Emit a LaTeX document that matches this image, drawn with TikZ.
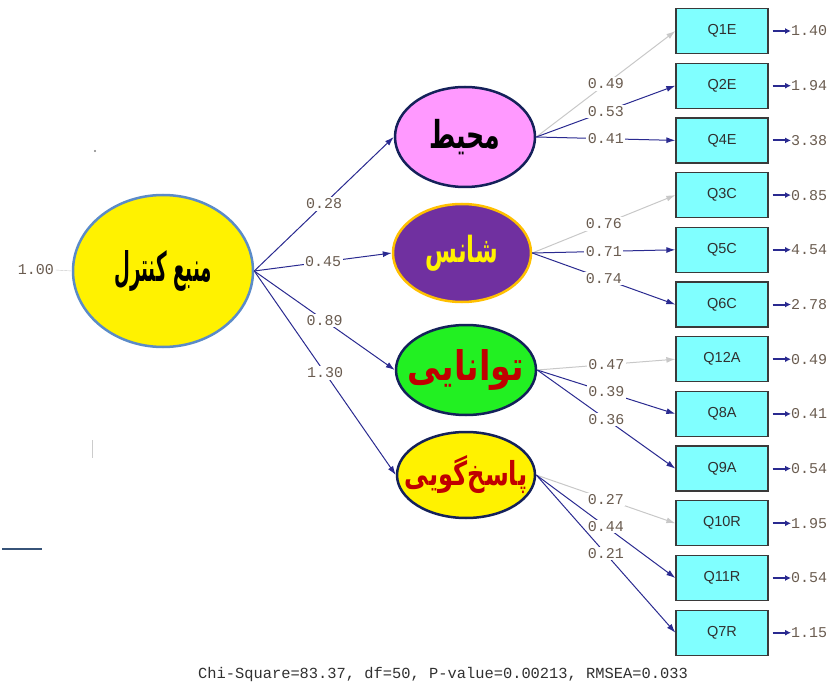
\documentclass[tikz,border=0pt]{standalone}
\usepackage{fontspec}
\usepackage{graphicx}
\setmainfont{Liberation Sans}
\newfontfamily\farsi[Script=Arabic]{DejaVu Sans}
\newfontfamily\lisrel{Liberation Mono}
\TeXXeTstate=1
\usetikzlibrary{shapes.geometric,arrows.meta}
\definecolor{pathblue}{HTML}{2A2A90}
\definecolor{pathgray}{HTML}{C8C8C8}
\definecolor{coeftext}{HTML}{6A5C50}
\definecolor{boxfill}{HTML}{80FFFF}
\definecolor{boxborder}{HTML}{3A3A3A}
\definecolor{boxtext}{HTML}{303030}
\definecolor{mainborder}{HTML}{5B8BC8}
\definecolor{latborder}{HTML}{14215A}
\definecolor{pinkfill}{HTML}{FF99FF}
\definecolor{purplefill}{HTML}{7030A0}
\definecolor{goldborder}{HTML}{FFC000}
\definecolor{greenfill}{HTML}{22F022}
\definecolor{darkred}{HTML}{C00000}
\newcommand{\falabel}[3]{\makebox[0pt]{\scalebox{#1}[#2]{#3}}}
\tikzset{
  latent/.style={ellipse, draw=latborder, line width=2.5pt, inner sep=0pt},
  indic/.style={rectangle, draw=boxborder, fill=boxfill, line width=1.3pt,
    minimum width=92pt, minimum height=45pt, text=boxtext,
    font=\fontsize{14.5}{14.5}\selectfont},
  coef/.style={fill=white, inner sep=1.5pt, text=coeftext,
    font=\lisrel\fontsize{15}{15}\selectfont},
  freepath/.style={draw=pathblue, line width=1pt, -{Latex[length=9pt,width=6pt]}},
  fixpath/.style={draw=pathgray, line width=1pt, -{Latex[length=9pt,width=6pt]}},
  errpath/.style={draw=pathblue, line width=2pt, shorten <=4pt, -{Latex[length=6pt,width=6pt]}},
  fa/.style={font=\farsi\bfseries\fontsize{#1}{#1}\selectfont}
}

\begin{document}
\begin{tikzpicture}[x=1pt,y=-1pt]
  \useasboundingbox (0,0) rectangle (833,695);
  % latent variables
  \node[latent, draw=mainborder, fill=yellow, minimum width=180pt, minimum height=152pt, fa=24]
    (loc) at (163,271) {\falabel{0.76}{1.7}{\beginR منبع کنترل\endR}};
  \node[latent, fill=pinkfill, minimum width=140pt, minimum height=100pt, fa=24]
    (env) at (465,137) {\falabel{1.05}{1.6}{\beginR محیط\endR}};
  \node[latent, draw=goldborder, fill=purplefill, text=yellow, minimum width=138pt, minimum height=98pt, fa=24]
    (chance) at (462,253) {\falabel{0.96}{1.5}{\beginR شانس\endR}};
  \node[latent, fill=greenfill, text=darkred, minimum width=140pt, minimum height=90pt, fa=24]
    (abil) at (466,370) {\falabel{1.39}{1.7}{\beginR توانایی\endR}};
  \node[latent, fill=yellow, text=darkred, minimum width=138pt, minimum height=86pt, fa=22]
    (resp) at (466,475) {\falabel{1.1}{1.5}{\beginR پاسخ‌گویی\endR}};
  \node[coef, fill=none] (lvar) at (36,270) {1.00};
  \draw[pathgray] (lvar.east) -- (loc.west);
  % indicators and error variances
  \foreach \i/\lab/\ev in {1/Q1E/1.40, 2/Q2E/1.94, 3/Q4E/3.38, 4/Q3C/0.85,
      5/Q5C/4.54, 6/Q6C/2.78, 7/Q12A/0.49, 8/Q8A/0.41, 9/Q9A/0.54,
      10/Q10R/1.95, 11/Q11R/0.54, 12/Q7R/1.15}{
    \node[indic] (q\i) at (722,{31+54.7*(\i-1)}) {\lab};
    \node[coef, fill=none, inner sep=0pt, anchor=west] (e\i) at (791,{31+54.7*(\i-1)}) {\ev};
    \draw[errpath] (q\i.east) -- (e\i.west);
  }
  % structural paths
  \foreach \tgt/\val in {env/0.28, chance/0.45, abil/0.89, resp/1.30}
    \draw[freepath] (loc.east) -- node[coef]{\val} (\tgt.west);
  % loadings
  \foreach \src/\i/\val/\sty in {env/1/0.49/fixpath, env/2/0.53/freepath, env/3/0.41/freepath,
      chance/4/0.76/fixpath, chance/5/0.71/freepath, chance/6/0.74/freepath,
      abil/7/0.47/fixpath, abil/8/0.39/freepath, abil/9/0.36/freepath,
      resp/10/0.27/fixpath, resp/11/0.44/freepath, resp/12/0.21/freepath}
    \draw[\sty] (\src.east) -- node[coef]{\val} (q\i.west);
  % fit statistics
  \node[font=\lisrel\fontsize{15.4}{15.4}\selectfont, text=boxtext] (fit) at (443,675)
    {Chi-Square=83.37, df=50, P-value=0.00213, RMSEA=0.033};
  % stray marks
  \fill[gray] (95,151) circle (1.2);
  \draw[gray!40, line width=1pt] (92,440) -- (92,458);
  \draw[mainborder!60!black, line width=2pt] (2,549) -- (42,549);
\end{tikzpicture}
\end{document}
